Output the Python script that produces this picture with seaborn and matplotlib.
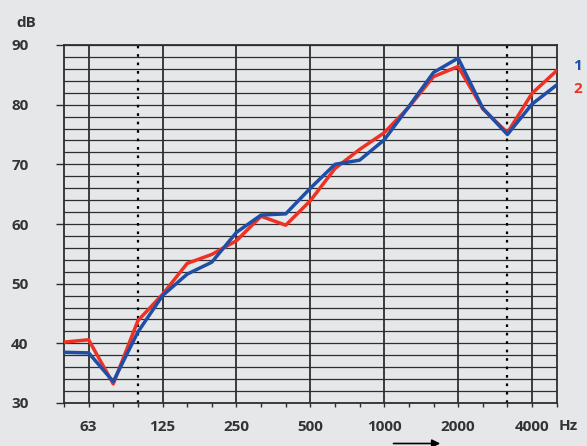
import numpy as np
import pandas as pd
import matplotlib
matplotlib.use("Agg")
import matplotlib.pyplot as plt
import seaborn as sns

# Third-octave band centre frequencies (Hz)
bands = [50, 63, 80, 100, 125, 160, 200, 250, 315, 400, 500, 630, 800,
         1000, 1250, 1600, 2000, 2500, 3150, 4000, 5000]
# Sound level per band (dB) for the two measurements
level_1 = [38.5, 38.4, 33.6, 41.9, 48.0, 51.6, 53.6, 58.6, 61.5, 61.7, 66.0,
           70.0, 70.7, 74.1, 79.7, 85.4, 87.8, 79.4, 75.0, 80.1, 83.3]
level_2 = [40.2, 40.6, 33.2, 43.8, 48.2, 53.4, 54.9, 57.2, 61.3, 59.8, 63.9,
           69.3, 72.5, 75.3, 79.6, 84.7, 86.4, 79.3, 75.3, 81.9, 85.7]
series_names = ["1", "2"]
labelled_bands = [63, 125, 250, 500, 1000, 2000, 4000]
marked_bands = [100, 3150]
y_ticks = [30, 40, 50, 60, 70, 80, 90]

BG = "#e6e7e9"
TXT = "#333333"
BLUE = "#1f4ea6"
RED = "#ef3124"

sns.set_theme(style="white")
plt.rcParams["font.family"] = ["Open Sans", "DejaVu Sans"]

pos = np.arange(len(bands))
df = pd.concat([
    pd.DataFrame({"band": pos, "level": level_1, "series": series_names[0]}),
    pd.DataFrame({"band": pos, "level": level_2, "series": series_names[1]}),
])

fig = plt.figure(figsize=(5.87, 4.46), dpi=100, facecolor=BG)
ax = fig.add_axes([64 / 587, (446 - 403) / 446, (556.7 - 64) / 587, (403 - 45) / 446])
ax.set_facecolor(BG)

# grid: horizontal every 2 dB, vertical at octave bands
for v in range(30, 91, 2):
    ax.axhline(v, color="#2e2e2e", lw=0.9, zorder=1)
for b in labelled_bands:
    ax.axvline(bands.index(b), color="#2e2e2e", lw=1.3, zorder=1)
for b in marked_bands:
    ax.axvline(bands.index(b), color="black", lw=1.6, ls=(0, (1.2, 2.6)), zorder=1)

sns.lineplot(data=df, x="band", y="level", hue="series",
             palette={series_names[1]: RED, series_names[0]: BLUE},
             hue_order=[series_names[1], series_names[0]],
             lw=2.5, legend=False, ax=ax, zorder=3)

ax.set_xlim(0, len(bands) - 1)
ax.set_ylim(30, 90)
ax.set_xlabel("")
ax.set_ylabel("")

for s in ax.spines.values():
    s.set_color("#2e2e2e")
    s.set_linewidth(1.3)

ax.set_xticks(pos)
ax.set_xticklabels([str(b) if b in labelled_bands else "" for b in bands])
ax.set_yticks(y_ticks)
ax.set_yticklabels([str(v) for v in y_ticks])
ax.tick_params(axis="x", direction="out", length=3, width=1, color="#2e2e2e",
               pad=9, labelsize=11, labelcolor=TXT, bottom=True)
ax.tick_params(axis="y", direction="out", length=5.5, width=1, color="#2e2e2e",
               pad=20, labelsize=11, labelcolor=TXT, left=True)
for lab in ax.get_xticklabels() + ax.get_yticklabels():
    lab.set_fontweight("bold")

fig.text(26.5 / 587, 1 - 27 / 446, "dB", ha="center", va="baseline",
         fontsize=11, fontweight="bold", color=TXT)
fig.text(568 / 587, 1 - 430 / 446, "Hz", ha="center", va="baseline",
         fontsize=11, fontweight="bold", color=TXT)
fig.text(578 / 587, 1 - 70 / 446, series_names[0], ha="center", va="baseline",
         fontsize=11, fontweight="bold", color=BLUE)
fig.text(578 / 587, 1 - 93.3 / 446, series_names[1], ha="center", va="baseline",
         fontsize=11, fontweight="bold", color=RED)

# direction arrow under the frequency axis
fig.add_artist(matplotlib.patches.FancyArrowPatch(
    (390.7 / 587, 1 - 443.5 / 446), (443 / 587, 1 - 443.5 / 446),
    transform=fig.transFigure, arrowstyle="-|>", mutation_scale=12,
    color="black", lw=1.2))

fig.savefig("out.png", dpi=100, facecolor=BG)
